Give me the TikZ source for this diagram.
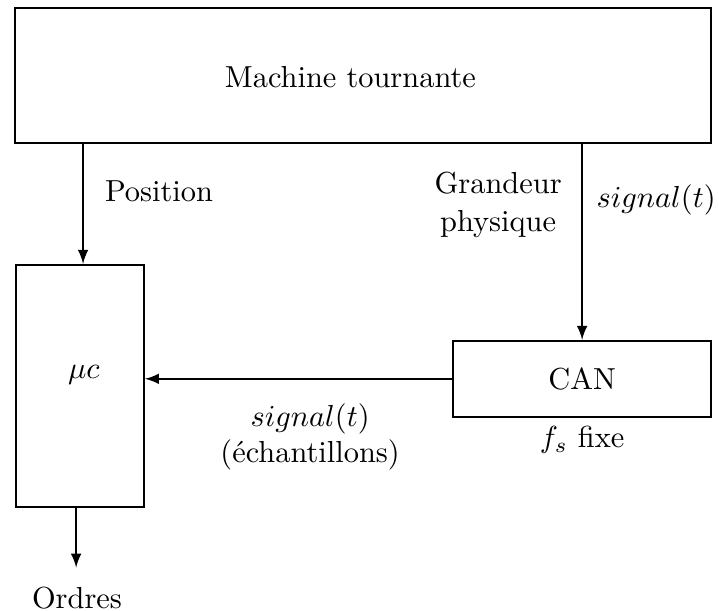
\documentclass[tikz,border=0pt]{standalone}
\usepackage{fontspec}
\begin{document}
\begin{tikzpicture}[>=latex, semithick,
		bloc/.style={draw, inner sep=0pt}]
		\useasboundingbox (0,0) rectangle (8.31,7.06);
		% Boite machine
		\node[bloc, minimum width=8.05cm, minimum height=1.56cm] (mach) at (4.196,6.19) {};
		\node (machtxt) at (4.05,6.17) {Machine tournante};
		% Boite microcontroleur
		\node[bloc, minimum width=1.48cm, minimum height=2.80cm] (mc) at (0.925,2.60) {};
		\node[anchor=base] (mctxt) at (0.97,2.69) {$\mu c$};
		% Boite CAN
		\node[bloc, minimum width=2.98cm, minimum height=0.88cm] (can) at (6.728,2.682) {CAN};
		\node[anchor=base] (fs) at (6.728,1.884) {$f_s$ fixe};
		% Fleches
			%points auxiliaires
			\coordinate (posx) at (0.96,0);
			\coordinate (fin) at (0.88,0.50);
		\draw[->] (mach.south -| posx) -- (mc.north -| posx);
		\draw[->] (mach.south -| can) -- (can.north);
		\draw[->] (can.west) -- (mc.east |- can.west);
		\draw[->] (mc.south -| fin) -- (fin);
		% Textes des fleches
		\node[anchor=base] (pos) at (1.838,4.728) {Position};
		\node[align=center] (grand) at (5.757,4.693) {Grandeur\\[0.6pt]physique};
		\node[anchor=base] (sig) at (7.583,4.659) {$signal(t)$};
		\node[align=center] (ech) at (3.584,2.013) {$signal(t)$\\(échantillons)};
		\node[anchor=base] (ord) at (0.89,0.023) {Ordres};
	\end{tikzpicture}
\end{document}
